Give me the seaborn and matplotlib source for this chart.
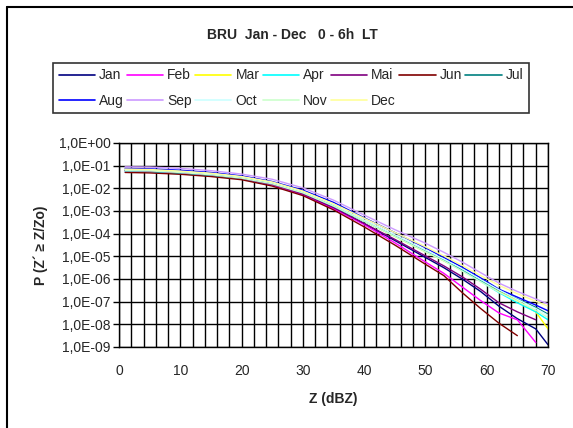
import matplotlib
matplotlib.use("Agg")
import matplotlib.pyplot as plt
from matplotlib.lines import Line2D
from matplotlib.ticker import FixedLocator, FuncFormatter, NullLocator
import seaborn as sns
import pandas as pd
import numpy as np

# reflectivity nodes (dBZ) and log10 of exceedance probability per month
z_dbz = [1, 5, 10, 15, 20, 25, 30, 35, 40, 45, 50, 53, 56, 59, 62, 65, 68, 70]

months = ["Jan", "Feb", "Mar", "Apr", "Mai", "Jun", "Jul",
          "Aug", "Sep", "Oct", "Nov", "Dec"]

jan = [-1.20, -1.22, -1.28, -1.38, -1.55, -1.82, -2.25, -2.85, -3.55, -4.30, -5.05, -5.50, -6.00, -6.55, -7.20, -7.75, -8.20, -8.90]
feb = [-1.24, -1.26, -1.32, -1.42, -1.58, -1.85, -2.28, -2.90, -3.60, -4.40, -5.25, -5.75, -6.35, -6.95, -7.50, -7.80, -8.80, None]
mar = [-1.20, -1.22, -1.28, -1.38, -1.53, -1.78, -2.20, -2.78, -3.45, -4.12, -4.80, -5.20, -5.62, -6.08, -6.52, -6.95, -7.45, -8.20]
apr = [-1.25, -1.27, -1.36, -1.45, -1.58, -1.82, -2.22, -2.80, -3.45, -4.10, -4.78, -5.18, -5.62, -6.10, -6.60, -7.05, -7.45, -7.80]
mai = [-1.22, -1.24, -1.30, -1.40, -1.56, -1.82, -2.25, -2.85, -3.55, -4.25, -4.98, -5.42, -5.90, -6.45, -7.05, -7.45, -7.80, None]
jun = [-1.30, -1.32, -1.38, -1.48, -1.62, -1.90, -2.32, -2.95, -3.70, -4.50, -5.35, -5.85, -6.60, -7.30, -7.95, -8.50, None, None]
jul = [-1.20, -1.21, -1.27, -1.37, -1.52, -1.77, -2.17, -2.75, -3.42, -4.08, -4.75, -5.15, -5.58, -6.05, -6.50, -6.88, -7.25, -7.55]
aug = [-1.12, -1.14, -1.20, -1.30, -1.45, -1.70, -2.08, -2.62, -3.30, -3.95, -4.62, -5.05, -5.48, -5.95, -6.45, -6.80, -7.15, -7.40]
sep = [-1.05, -1.06, -1.12, -1.22, -1.37, -1.60, -1.98, -2.52, -3.18, -3.82, -4.42, -4.82, -5.25, -5.72, -6.18, -6.55, -6.88, -7.10]
oct_ = [-1.18, -1.20, -1.26, -1.36, -1.50, -1.75, -2.15, -2.72, -3.40, -4.05, -4.72, -5.12, -5.55, -6.02, -6.48, -6.90, -7.30, -7.60]
nov = [-1.22, -1.23, -1.30, -1.40, -1.55, -1.80, -2.20, -2.78, -3.45, -4.12, -4.80, -5.20, -5.65, -6.12, -6.58, -6.98, -7.38, -7.70]
dec = [-1.15, -1.17, -1.24, -1.33, -1.48, -1.72, -2.12, -2.68, -3.32, -3.95, -4.58, -4.98, -5.40, -5.85, -6.28, -6.65, -6.98, -7.20]

colors = ["#000080", "#FF00FF", "#FFFF00", "#00FFFF", "#800080", "#800000", "#008080",
          "#0000FF", "#CC99FF", "#CCFFFF", "#CCFFCC", "#FFFF99"]

series = [jan, feb, mar, apr, mai, jun, jul, aug, sep, oct_, nov, dec]
rows = []
for m, vals in zip(months, series):
    for z, v in zip(z_dbz, vals):
        if v is not None:
            rows.append({"z": z, "p": 10.0 ** v, "month": m})
df = pd.DataFrame(rows)

sns.set_theme(style="white")
plt.rcParams["font.family"] = ["Liberation Sans", "DejaVu Sans"]

fig = plt.figure(figsize=(5.73, 4.28), dpi=100)
ax = fig.add_axes([119 / 573, 1 - 347 / 428, 429 / 573, 204 / 428])

sns.lineplot(data=df, x="z", y="p", hue="month", hue_order=months,
             palette=dict(zip(months, colors)), linewidth=1.0, ax=ax, legend=False)

ax.set_yscale("log")
ax.set_xlim(0, 70)
ax.set_ylim(1e-9, 1)
ax.xaxis.set_major_locator(FixedLocator(np.arange(0, 71, 10)))
ax.xaxis.set_minor_locator(FixedLocator(np.arange(0, 71, 2)))
ax.yaxis.set_major_locator(FixedLocator([10.0 ** e for e in range(-9, 1)]))
ax.yaxis.set_minor_locator(NullLocator())
ax.yaxis.set_major_formatter(FuncFormatter(lambda v, p: "1,0E%+03d" % int(round(np.log10(v)))))
ax.grid(which="minor", axis="x", color="black", linewidth=1.0)
ax.grid(which="major", axis="both", color="black", linewidth=1.0)
ax.set_axisbelow(True)
for s in ax.spines.values():
    s.set_color("black")
    s.set_linewidth(1.0)
ax.tick_params(axis="x", which="both", length=0, labelsize=10, pad=12)
ax.tick_params(axis="y", which="major", length=4, width=1, color="black",
               direction="out", left=True, labelsize=10, pad=2)
ax.set_xlabel("Z (dBZ)", fontsize=10, fontweight="bold", labelpad=10)
ax.set_ylabel("P (Z\u00b4 \u2265 Z/Zo)", fontsize=10, fontweight="bold", labelpad=8)

fig.text(292 / 573, 1 - 35 / 428, "BRU  Jan - Dec   0 - 6h  LT",
         ha="center", va="center", fontsize=10, fontweight="bold")

# legend: row 1 Jan..Jul, row 2 Aug..Dec (column-major order)
order = [0, 7, 1, 8, 2, 9, 3, 10, 4, 11, 5, 6]
handles = [Line2D([0], [0], color=colors[i], lw=1.2) for i in order]
labels = [months[i] for i in order]
leg = fig.legend(handles, labels, ncol=7, loc="center",
                 bbox_to_anchor=(53 / 573, 1 - 114 / 428, 476 / 573, 52 / 428),
                 mode="expand", borderaxespad=0, fontsize=10, frameon=True,
                 fancybox=False, handlelength=2.6, handletextpad=0.3,
                 columnspacing=0.6, labelspacing=0.8)
leg.get_frame().set_edgecolor("black")
leg.get_frame().set_linewidth(1.2)

# chart-area border (top and left only, the rest is cropped)
fig.add_artist(Line2D([7 / 573, 1], [1 - 7 / 428, 1 - 7 / 428], color="black", lw=1.5,
                      transform=fig.transFigure))
fig.add_artist(Line2D([7 / 573, 7 / 573], [0, 1 - 7 / 428], color="black", lw=1.5,
                      transform=fig.transFigure))

fig.savefig("out.png", dpi=100)
